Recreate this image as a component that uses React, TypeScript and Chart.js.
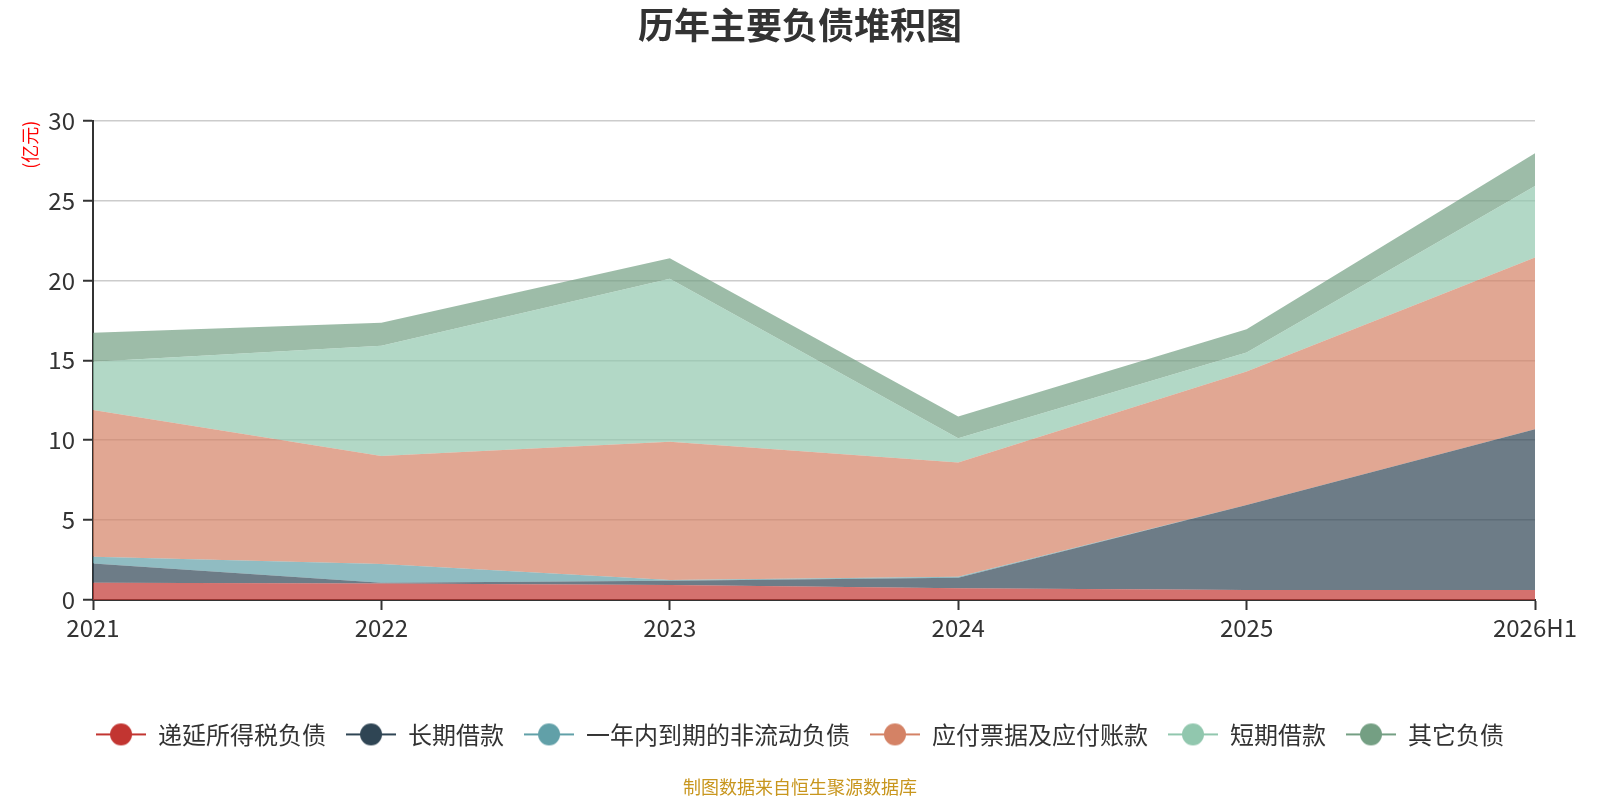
import React, { useEffect, useRef } from 'react';
import Chart from 'chart.js/auto';

const categories = ['2021', '2022', '2023', '2024', '2025', '2026H1'];
const seriesNames = ['递延所得税负债', '长期借款', '一年内到期的非流动负债', '应付票据及应付账款', '短期借款', '其它负债'];
const seriesColors = ['#c23531', '#2f4554', '#61a0a8', '#d48265', '#91c7ae', '#749f83'];

const deferredTax = [1.08, 1.04, 0.94, 0.73, 0.63, 0.63];
const longTermLoans = [1.21, 0.04, 0.27, 0.67, 5.32, 10.06];
const currentNonCurrent = [0.42, 1.17, 0.04, 0.06, 0, 0];
const payables = [9.18, 6.76, 8.66, 7.14, 8.35, 10.74];
const shortTermLoans = [3.03, 6.91, 10.19, 1.52, 1.19, 4.49];
const otherLiabilities = [1.81, 1.44, 1.29, 1.36, 1.46, 2.05];

const seriesValues = [deferredTax, longTermLoans, currentNonCurrent, payables, shortTermLoans, otherLiabilities];

const yTicks = [0, 5, 10, 15, 20, 25, 30];

const FONT = '"Noto Sans CJK SC", "Noto Sans", sans-serif';

// bottom boxes (px): subtitle, legend, x axis add up to 200 below the plot
const SUB_SIZE = 18;
const SUB_PAD_TOP = 20;
const SUB_PAD_BOTTOM = 2;
const LEGEND_SIZE = 24;
const LEGEND_PAD = 20;
const subtitleH = SUB_PAD_TOP + SUB_PAD_BOTTOM + SUB_SIZE * 1.2;
const legendH = LEGEND_SIZE + LEGEND_PAD + 10;
const xAxisH = 200 - subtitleH - legendH;

function hexToRgba(hex: string, a: number) {
  const n = parseInt(hex.slice(1), 16);
  return `rgba(${(n >> 16) & 255}, ${(n >> 8) & 255}, ${n & 255}, ${a})`;
}

// legend icon: a short line with a dot in the middle
function makeIcon(color: string) {
  const c = document.createElement('canvas');
  c.width = 50;
  c.height = 24;
  const ctx = c.getContext('2d');
  if (ctx) {
    ctx.strokeStyle = color;
    ctx.lineWidth = 2;
    ctx.beginPath();
    ctx.moveTo(0, 12);
    ctx.lineTo(50, 12);
    ctx.stroke();
    ctx.fillStyle = color;
    ctx.beginPath();
    ctx.arc(25, 12, 11, 0, Math.PI * 2);
    ctx.fill();
  }
  return c;
}

const App: React.FC = () => {
  const canvasRef = useRef<HTMLCanvasElement>(null);
  const chartRef = useRef<Chart | null>(null);

  useEffect(() => {
    document.body.style.margin = '0';
    if (!canvasRef.current) return;
    const ctx = canvasRef.current.getContext('2d');
    if (!ctx) return;

    if (chartRef.current) chartRef.current.destroy();

    const icons = seriesColors.map(makeIcon);

    chartRef.current = new Chart(ctx, {
      type: 'line',
      data: {
        labels: categories,
        datasets: seriesNames.map((name, i) => ({
          label: name,
          data: seriesValues[i],
          borderColor: seriesColors[i],
          borderWidth: 0,
          backgroundColor: hexToRgba(seriesColors[i], 0.7),
          fill: i === 0 ? 'origin' : '-1',
          pointRadius: 0,
          pointHoverRadius: 0,
          tension: 0,
          yAxisID: 'y',
        })),
      },
      options: {
        animation: false,
        responsive: false,
        layout: { padding: 0 },
        plugins: {
          title: {
            display: true,
            text: '历年主要负债堆积图',
            color: '#333',
            font: { family: FONT, size: 36, weight: 'bold' },
            padding: { top: 3.4, bottom: 74.1 },
          },
          subtitle: {
            display: true,
            position: 'bottom',
            text: '制图数据来自恒生聚源数据库',
            color: '#c8961e',
            font: { family: FONT, size: SUB_SIZE },
            padding: { top: SUB_PAD_TOP, bottom: SUB_PAD_BOTTOM },
          },
          legend: {
            position: 'bottom',
            labels: {
              usePointStyle: true,
              pointStyleWidth: 50,
              padding: LEGEND_PAD,
              color: '#333',
              font: { family: FONT, size: LEGEND_SIZE },
              generateLabels: (chart) =>
                chart.data.datasets.map((ds, i) => ({
                  text: ds.label as string,
                  pointStyle: icons[i],
                  fillStyle: seriesColors[i],
                  strokeStyle: seriesColors[i],
                  lineWidth: 0,
                  hidden: false,
                  datasetIndex: i,
                  fontColor: '#333',
                })),
            },
          },
          tooltip: { enabled: false },
        },
        scales: {
          x: {
            offset: false,
            grid: {
              drawOnChartArea: false,
              tickLength: 10,
              tickColor: '#333',
              tickWidth: 2,
            },
            border: { color: '#333', width: 2 },
            ticks: {
              color: '#333',
              font: { family: FONT, size: 24 },
              padding: 3,
              maxRotation: 0,
              autoSkip: false,
            },
            afterFit: (scale) => {
              scale.height = xAxisH;
            },
          },
          y: {
            stacked: true,
            min: 0,
            max: 30,
            afterBuildTicks: (scale) => {
              scale.ticks = yTicks.map((v) => ({ value: v }));
            },
            grid: {
              color: '#cccccc',
              lineWidth: 1.5,
              tickLength: 10,
              tickColor: '#333',
              tickWidth: 2,
            },
            border: { color: '#333', width: 2 },
            ticks: {
              color: '#333',
              font: { family: FONT, size: 24 },
              padding: 8,
            },
            title: {
              display: true,
              text: '(亿元)',
              color: '#ff0000',
              align: 'end',
              font: { family: FONT, size: 18 },
              padding: { top: 19, bottom: 0 },
            },
            afterFit: (scale) => {
              scale.width = 93;
            },
          },
          // empty right-hand spacer so the plot ends where the reference does
          spacer: {
            type: 'linear',
            position: 'right',
            min: 0,
            max: 1,
            grid: { display: false },
            border: { display: false },
            ticks: { display: false },
            afterFit: (scale) => {
              scale.width = 65;
            },
          },
        },
      },
    });

    return () => {
      if (chartRef.current) {
        chartRef.current.destroy();
        chartRef.current = null;
      }
    };
  }, []);

  return (
    <div style={{ width: 1600, height: 800 }}>
      <canvas ref={canvasRef} width={1600} height={800} style={{ display: 'block' }}></canvas>
    </div>
  );
};

export default App;
